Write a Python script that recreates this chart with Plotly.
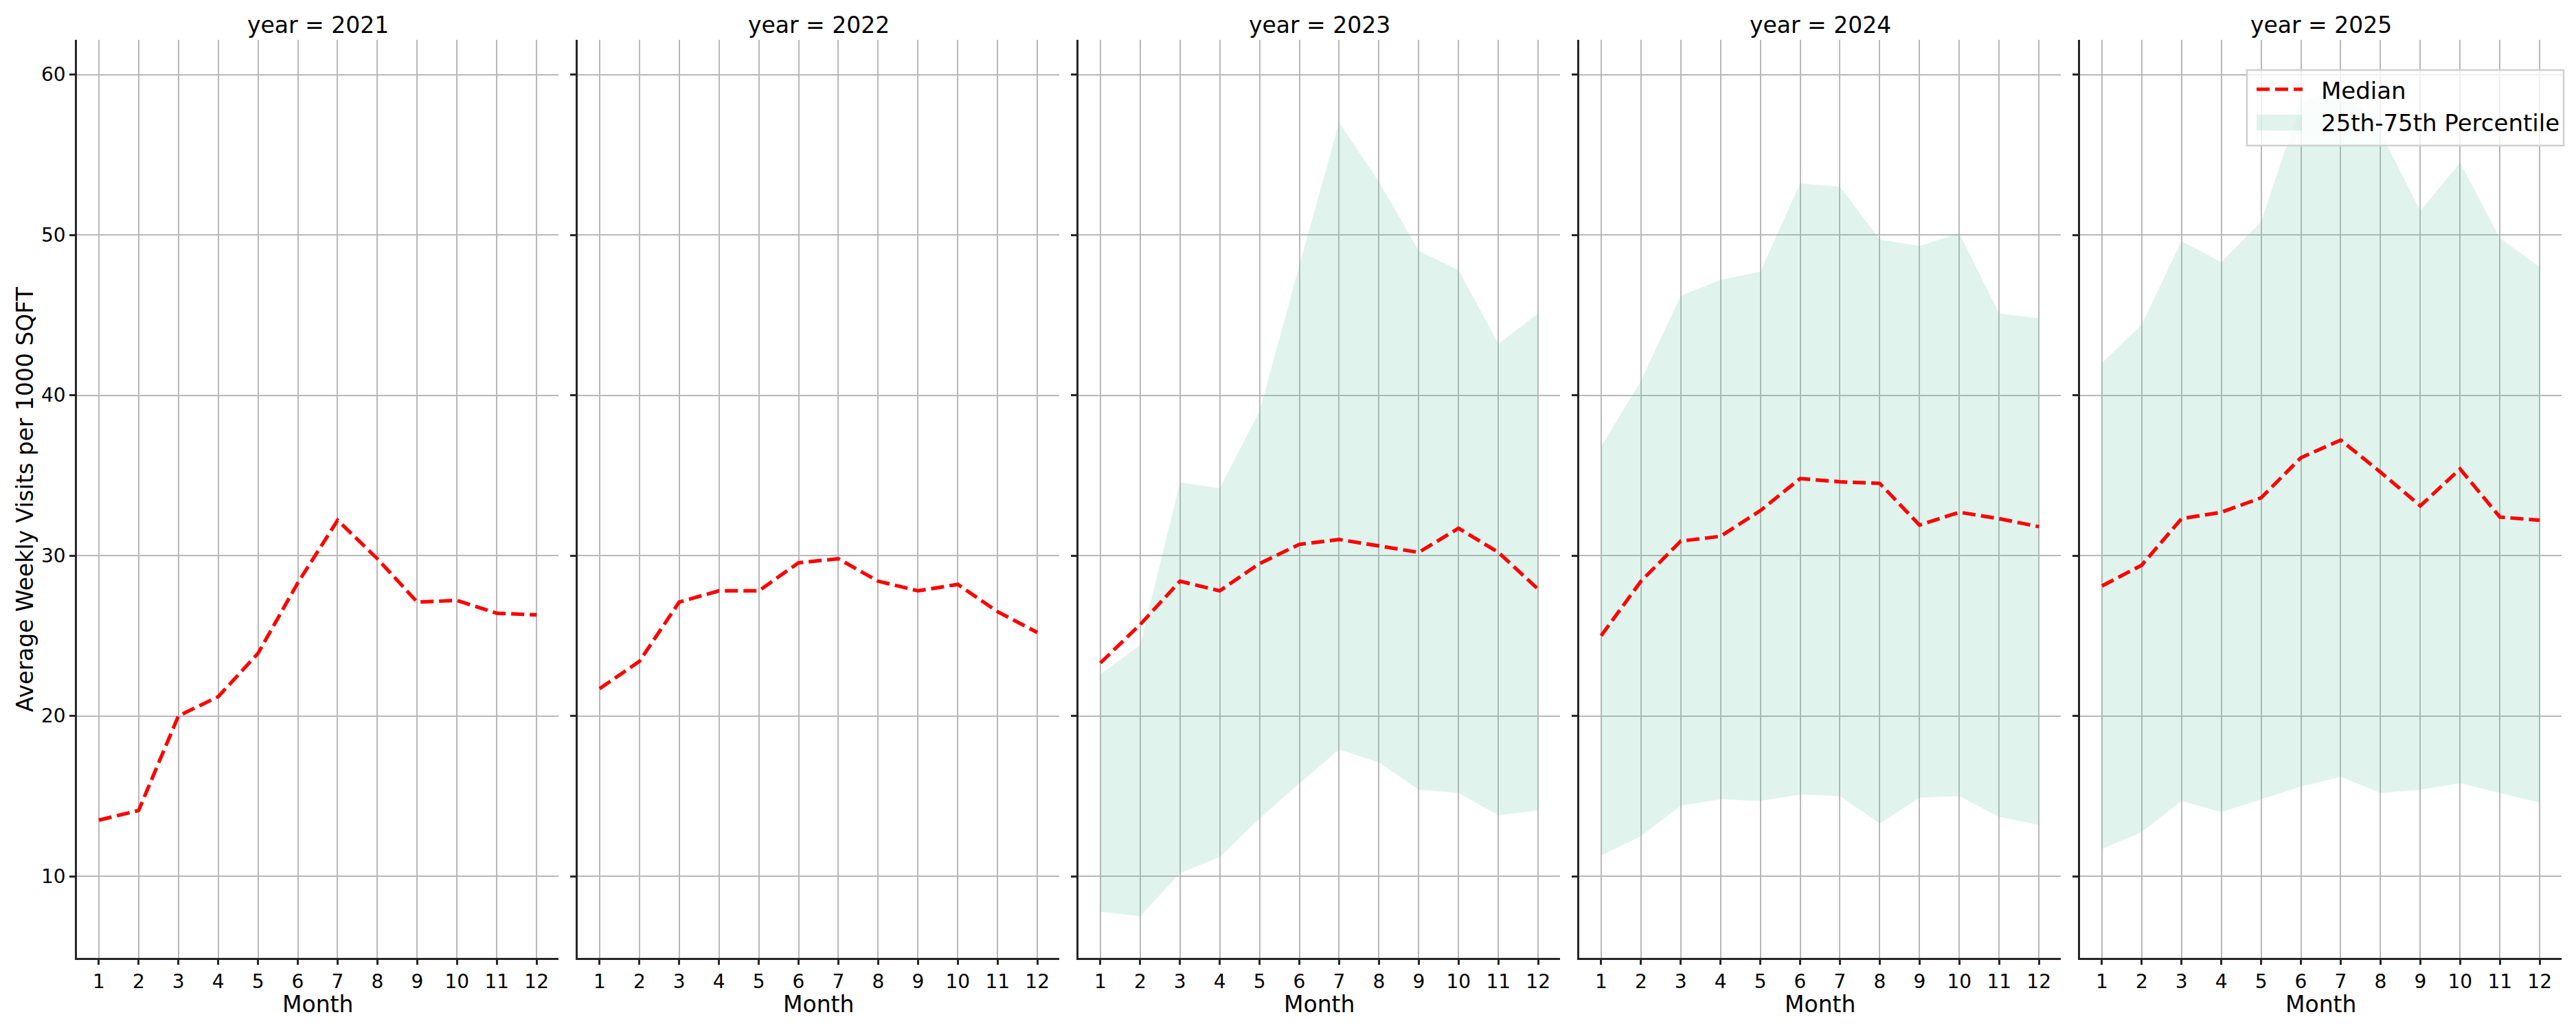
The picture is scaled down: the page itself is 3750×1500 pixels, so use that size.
import plotly.graph_objects as go

months = list(range(1, 13))
years = [2021, 2022, 2023, 2024, 2025]
tick_labels = [str(m) for m in months]

median_2021 = [13.5, 14.1, 20.0, 21.2, 23.9, 28.3, 32.2, 29.8, 27.1, 27.2, 26.4, 26.3]
median_2022 = [21.7, 23.4, 27.1, 27.8, 27.8, 29.55, 29.8, 28.4, 27.8, 28.2, 26.5, 25.2]
median_2023 = [23.3, 25.7, 28.4, 27.8, 29.5, 30.7, 31.0, 30.6, 30.2, 31.7, 30.2, 27.9]
median_2024 = [25.0, 28.4, 30.9, 31.2, 32.8, 34.8, 34.6, 34.5, 31.9, 32.7, 32.3, 31.8]
median_2025 = [28.1, 29.4, 32.3, 32.7, 33.6, 36.1, 37.2, 35.2, 33.1, 35.4, 32.4, 32.2]

p25_2023 = [7.8, 7.5, 10.2, 11.2, 13.6, 15.8, 17.9, 17.1, 15.4, 15.2, 13.8, 14.1]
p75_2023 = [22.6, 24.4, 34.55, 34.2, 39.0, 48.1, 57.0, 53.3, 49.0, 47.8, 43.2, 45.1]
p25_2024 = [11.3, 12.5, 14.4, 14.8, 14.7, 15.1, 15.0, 13.3, 14.9, 15.0, 13.7, 13.2]
p75_2024 = [36.8, 40.9, 46.2, 47.2, 47.7, 53.2, 53.0, 49.7, 49.3, 50.1, 45.1, 44.8]
p25_2025 = [11.7, 12.75, 14.7, 14.0, 14.8, 15.6, 16.2, 15.2, 15.4, 15.8, 15.2, 14.6]
p75_2025 = [42.0, 44.4, 49.6, 48.3, 50.8, 58.2, 59.4, 56.4, 51.5, 54.5, 49.8, 48.0]

medians = {2021: median_2021, 2022: median_2022, 2023: median_2023,
           2024: median_2024, 2025: median_2025}
bands = {2023: (p25_2023, p75_2023), 2024: (p25_2024, p75_2024),
         2025: (p25_2025, p75_2025)}
legend_names = ["Median", "25th-75th Percentile"]

W, H = 3750, 1500
FONT = "DejaVu Sans"
SPINE = "#262626"
GRID = "#b8b8b8"
FILL = "rgba(102,194,165,0.2)"
MEDIAN_LINE = dict(color="red", width=5.2, dash="19px,8px")

panel_left0 = 112
panel_step = 729
panel_w = 701
top_px, bot_px = 58.3, 1394.7
ydom = [1 - bot_px / H, 1 - top_px / H]


def px_x(v):
    return v / W


def px_y(v):
    return 1 - v / H


fig = go.Figure()
layout = dict(
    width=W, height=H,
    margin=dict(l=0, r=0, t=0, b=0),
    paper_bgcolor="white", plot_bgcolor="white",
    font=dict(family=FONT, size=28, color="black"),
    showlegend=True,
    legend=dict(
        x=px_x(3732), y=px_y(102), xanchor="right", yanchor="top",
        bgcolor="rgba(0,0,0,0)", borderwidth=0,
        font=dict(family=FONT, size=34, color="black"),
        itemwidth=92, tracegroupgap=0, traceorder="normal",
    ),
    annotations=[],
    shapes=[
        # legend frame
        dict(type="rect", xref="paper", yref="paper", layer="above",
             x0=px_x(3271), x1=px_x(3732), y0=px_y(212), y1=px_y(102),
             fillcolor="rgba(255,255,255,0.8)",
             line=dict(color="#d0d0d0", width=2.5)),
        # legend key: median dashed line
        dict(type="line", xref="paper", yref="paper", layer="above",
             x0=px_x(3285), x1=px_x(3352), y0=px_y(130), y1=px_y(130),
             line=MEDIAN_LINE),
        # legend key: percentile band patch
        dict(type="rect", xref="paper", yref="paper", layer="above",
             x0=px_x(3285), x1=px_x(3351), y0=px_y(190), y1=px_y(167),
             fillcolor=FILL, line=dict(width=0)),
    ],
)

for i, yr in enumerate(years):
    n = i + 1
    xa = "x" if n == 1 else f"x{n}"
    ya = "y" if n == 1 else f"y{n}"
    left = panel_left0 + i * panel_step
    xdom = [left / W, (left + panel_w) / W]

    if yr in bands:
        lo, hi = bands[yr]
        fig.add_trace(go.Scatter(
            x=months, y=lo, mode="lines", line=dict(width=0, color=FILL),
            xaxis=xa, yaxis=ya, showlegend=False, hoverinfo="skip"))
        fig.add_trace(go.Scatter(
            x=months, y=hi, mode="lines", line=dict(width=0, color=FILL),
            fill="tonexty", fillcolor=FILL, xaxis=xa, yaxis=ya,
            name=legend_names[1], showlegend=False))
    fig.add_trace(go.Scatter(
        x=months, y=medians[yr], mode="lines", line=MEDIAN_LINE,
        xaxis=xa, yaxis=ya, name=legend_names[0], showlegend=False))

    layout["xaxis" if n == 1 else f"xaxis{n}"] = dict(
        domain=xdom, anchor=ya, range=[0.45, 12.55],
        tickmode="array", tickvals=months, ticktext=tick_labels,
        showgrid=True, gridcolor=GRID, gridwidth=1.7,
        showline=True, linecolor=SPINE, linewidth=2.5,
        ticks="outside", ticklen=8, tickwidth=2.5, tickcolor=SPINE,
        tickfont=dict(size=28), zeroline=False, mirror=False,
    )
    layout["yaxis" if n == 1 else f"yaxis{n}"] = dict(
        domain=ydom, anchor=xa, range=[4.92, 62.15],
        tickmode="array", tickvals=[10, 20, 30, 40, 50, 60],
        showticklabels=(n == 1),
        showgrid=True, gridcolor=GRID, gridwidth=1.7,
        showline=True, linecolor=SPINE, linewidth=2.5,
        ticks="outside", ticklen=8, tickwidth=2.5, tickcolor=SPINE,
        tickfont=dict(size=28), zeroline=False, mirror=False,
    )
    cx = (left + panel_w / 2) / W
    layout["annotations"].append(dict(
        text=f"year = {yr}", x=cx, y=px_y(37), xref="paper", yref="paper",
        xanchor="center", yanchor="middle", showarrow=False,
        font=dict(family=FONT, size=33, color="black")))
    layout["annotations"].append(dict(
        text="Month", x=cx, y=px_y(1462), xref="paper", yref="paper",
        xanchor="center", yanchor="middle", showarrow=False,
        font=dict(family=FONT, size=33, color="black")))

# legend text entries (keys drawn as shapes above)
for name in legend_names:
    fig.add_trace(go.Scatter(
        x=[None], y=[None], mode="lines", line=dict(width=0, color="white"),
        name=name, showlegend=True, hoverinfo="skip", xaxis="x5", yaxis="y5"))

layout["annotations"].append(dict(
    text="Average Weekly Visits per 1000 SQFT", x=px_x(36), y=px_y(727),
    xref="paper", yref="paper", xanchor="center", yanchor="middle",
    textangle=-90, showarrow=False,
    font=dict(family=FONT, size=33, color="black")))

fig.update_layout(**layout)
fig.write_html("out.html")
